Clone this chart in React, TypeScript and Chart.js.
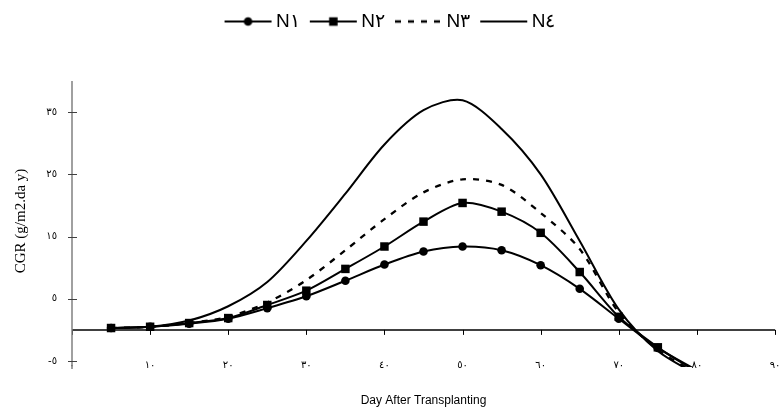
import React, { useEffect, useRef } from 'react';
import { Chart, registerables } from 'chart.js';

Chart.register(...registerables);

// ---- data ----
const days = [5, 10, 15, 20, 25, 30, 35, 40, 45, 50, 55, 60, 65, 70, 75, 80];
const n1 = [0.3, 0.5, 1.0, 1.8, 3.5, 5.4, 7.9, 10.5, 12.6, 13.4, 12.8, 10.4, 6.6, 1.8, -2.9, -6.5];
const n2 = [0.3, 0.5, 1.1, 1.9, 4.0, 6.3, 9.8, 13.4, 17.4, 20.4, 19.0, 15.6, 9.3, 2.1, -2.8, -6.8];
const n3 = [0.3, 0.5, 1.1, 2.1, 4.4, 8.0, 12.8, 17.8, 22.1, 24.2, 23.3, 18.8, 13.0, 2.8, -3.2, -7.0];
const n4 = [0.3, 0.5, 1.5, 3.8, 7.7, 14.3, 21.9, 29.8, 35.3, 36.9, 32.3, 25.0, 14.3, 3.3, -3.4, -7.2];
const seriesNames = ['N١', 'N٢', 'N٣', 'N٤'];
const yTickValues = [-5, 5, 15, 25, 35];
const xTickValues = [0, 10, 20, 30, 40, 50, 60, 70, 80, 90];
const xTitle = 'Day After Transplanting';
const yTitle = 'CGR (g/m2.da y)';

const AR_DIGITS = '٠١٢٣٤٥٦٧٨٩';
const toArabic = (v: number | string) => String(v).replace(/\d/g, (d) => AR_DIGITS[+d]);

function makeSample(marker: 'circle' | 'rect' | 'none', dash: number[], lw: number) {
  const c = document.createElement('canvas');
  c.width = 56;
  c.height = 14;
  const g = c.getContext('2d') as CanvasRenderingContext2D;
  g.strokeStyle = '#000';
  g.lineWidth = lw;
  g.setLineDash(dash);
  g.beginPath();
  g.moveTo(7, 7);
  g.lineTo(54, 7);
  g.stroke();
  g.setLineDash([]);
  g.fillStyle = '#000';
  if (marker === 'circle') {
    g.beginPath();
    g.arc(30.5, 7, 4.3, 0, Math.PI * 2);
    g.fill();
  } else if (marker === 'rect') {
    g.fillRect(26.3, 2.8, 8.5, 8.5);
  }
  return c;
}

const legendSpace = {
  id: 'legendSpace',
  beforeInit(chart: any) {
    const legend = chart.legend;
    if (!legend) return;
    const orig = legend.fit.bind(legend);
    legend.fit = function () {
      orig();
      this.height = 79;
    };
  },
};

const axisMarks = {
  id: 'axisMarks',
  beforeDatasetsDraw(chart: any) {
    const { ctx, chartArea, scales } = chart;
    const { left, right, top, bottom } = chartArea;
    const xs = scales.x;
    const ys = scales.y;
    ctx.save();
    const y0 = ys.getPixelForValue(0);
    ctx.strokeStyle = '#000';
    ctx.lineWidth = 1.5;
    ctx.beginPath();
    ctx.moveTo(left, y0);
    ctx.lineTo(right, y0);
    ctx.stroke();
    ctx.lineWidth = 1;
    xs.ticks.forEach((t: any) => {
      const px = Math.round(xs.getPixelForValue(t.value)) + 0.5;
      ctx.beginPath();
      ctx.moveTo(px, y0);
      ctx.lineTo(px, y0 + 5);
      ctx.stroke();
    });
    ctx.strokeStyle = '#808080';
    ctx.lineWidth = 1.5;
    ctx.beginPath();
    ctx.moveTo(left, top);
    ctx.lineTo(left, bottom + 8);
    ctx.stroke();
    ctx.strokeStyle = '#404040';
    ctx.lineWidth = 1;
    ys.ticks.forEach((t: any) => {
      const py = Math.round(ys.getPixelForValue(t.value)) + 0.5;
      ctx.beginPath();
      ctx.moveTo(left - 4, py);
      ctx.lineTo(left + 5, py);
      ctx.stroke();
    });
    ctx.restore();
  },
};

export default function App() {
  const ref = useRef<HTMLCanvasElement | null>(null);

  useEffect(() => {
    if (!ref.current) return;
    const samples = [
      makeSample('circle', [], 2),
      makeSample('rect', [], 2),
      makeSample('none', [6, 7], 2.5),
      makeSample('none', [], 2),
    ];
    const series = [n1, n2, n3, n4];
    const lastIdx = days.length - 1;
    const datasets = series.map((vals, i) => ({
      label: seriesNames[i],
      data: days.map((d, j) => ({ x: d, y: vals[j] })),
      borderColor: '#000',
      backgroundColor: '#000',
      pointBackgroundColor: '#000',
      pointBorderColor: '#000',
      borderWidth: i === 2 ? 2.3 : 2,
      borderDash: i === 2 ? [6, 7] : [],
      pointStyle: i === 1 ? 'rect' : 'circle',
      pointRadius: (c: any) => (i > 1 || c.dataIndex === lastIdx ? 0 : i === 1 ? 6 : 4.3),
      pointBorderWidth: 0,
      tension: 0.3,
      clip: { left: 5, top: 5, right: 5, bottom: 6 },
    }));

    const chart = new Chart(ref.current, {
      type: 'line',
      data: { datasets: datasets as any },
      plugins: [legendSpace, axisMarks],
      options: {
        responsive: false,
        animation: false,
        events: [],
        layout: { padding: { left: 0, right: 1, top: 2, bottom: 0 } },
        elements: { line: { capBezierPoints: false } },
        plugins: {
          tooltip: { enabled: false },
          legend: {
            display: true,
            position: 'top',
            labels: {
              usePointStyle: true,
              pointStyleWidth: 42,
              padding: 10,
              color: '#000',
              font: { family: '"Liberation Sans Narrow", "Arial Narrow", "Liberation Sans", Arial, sans-serif', size: 19 },
              generateLabels: (ch: any) =>
                ch.data.datasets.map((ds: any, i: number) => ({
                  text: ds.label,
                  pointStyle: samples[i],
                  datasetIndex: i,
                  hidden: false,
                  fillStyle: '#000',
                  strokeStyle: '#000',
                  fontColor: '#000',
                  lineWidth: 0,
                })),
            },
          },
        },
        scales: {
          x: {
            type: 'linear',
            min: 0,
            max: 90,
            afterBuildTicks: (s: any) => {
              s.ticks = xTickValues.map((v) => ({ value: v }));
            },
            ticks: {
              callback: (v: any) => toArabic(v),
              color: '#000',
              font: { family: '"DejaVu Sans", sans-serif', size: 10 },
              padding: -2,
              maxRotation: 0,
              autoSkip: false,
            },
            grid: { display: false, drawTicks: false },
            border: { display: false },
            title: {
              display: true,
              text: xTitle,
              color: '#000',
              font: { family: '"Liberation Sans", Arial, sans-serif', size: 12 },
              padding: { top: 0, bottom: 5 },
            },
            afterFit: (s: any) => {
              s.height = 52;
              s.paddingLeft = 0;
              s.paddingRight = 0;
            },
          },
          y: {
            type: 'linear',
            min: -5,
            max: 40,
            afterBuildTicks: (s: any) => {
              s.ticks = yTickValues.map((v) => ({ value: v }));
            },
            ticks: {
              callback: (v: any) => toArabic(v),
              color: '#000',
              font: { family: '"DejaVu Sans", sans-serif', size: 10 },
              padding: 15,
            },
            grid: { display: false, drawTicks: false },
            border: { display: false },
            title: {
              display: true,
              text: yTitle,
              color: '#000',
              font: { family: '"Liberation Serif", "Times New Roman", serif', size: 15 },
              padding: { top: 12, bottom: 0 },
            },
            afterFit: (s: any) => {
              s.width = 72;
              s.paddingTop = 0;
              s.paddingBottom = 0;
            },
          },
        },
      } as any,
    });
    return () => chart.destroy();
  }, []);

  return (
    <div style={{ position: 'absolute', left: 0, top: 0, width: 781, height: 413, background: '#fff' }}>
      <canvas ref={ref} width={781} height={413} style={{ display: 'block' }} />
    </div>
  );
}
